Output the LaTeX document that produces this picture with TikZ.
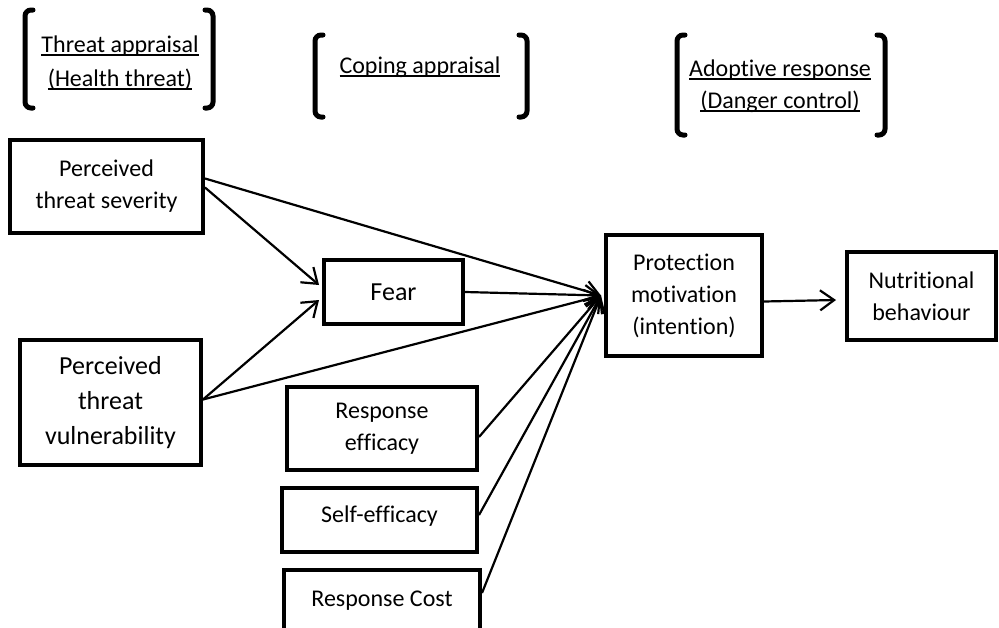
\documentclass[tikz,border=0pt]{standalone}
\usepackage{fontspec}
\setmainfont{Carlito}[Ligatures=NoCommon]
\usetikzlibrary{arrows.meta}
\newcommand\ulx[1]{\setbox0\hbox{#1}\rlap{\rule[-4pt]{\wd0}{2pt}}\box0}
\begin{document}
\begin{tikzpicture}[x=1pt,y=-1pt,
 box/.style={draw,line width=4pt,inner sep=0pt,align=center,font=\fontsize{24}{32}\selectfont},
 conn/.style={line width=2.2pt,-{Straight Barb[length=14pt,width=20pt,line width=2.2pt]}},
 brk/.style={line width=5pt,line cap=round,rounded corners=6pt},
 lbl/.style={align=center,inner sep=0pt,font=\fontsize{24}{34}\selectfont}]
\useasboundingbox (0,0) rectangle (999,627);
\clip (0,0) rectangle (999,627);
% brackets
\draw[brk] (33,10) -- (25,10) -- (25,108) -- (33,108);
\draw[brk] (205,10) -- (213,10) -- (213,108) -- (205,108);
\draw[brk] (323,35) -- (315,35) -- (315,117) -- (323,117);
\draw[brk] (519,35) -- (527,35) -- (527,117) -- (519,117);
\draw[brk] (685,35) -- (677,35) -- (677,135) -- (685,135);
\draw[brk] (877,35) -- (885,35) -- (885,135) -- (877,135);
\node[lbl] (t1) at (120,63) {\ulx{Threat appraisal}\\\ulx{(Health threat)}};
\node[lbl] (t2) at (420,67) {\ulx{Coping appraisal}};
\node[lbl,font=\fontsize{24}{32}\selectfont] (t3) at (780,86) {\ulx{Adoptive response}\\\ulx{(Danger control)}};
% boxes
\node[box,minimum width=193pt,minimum height=93pt] (pts) at (106.5,186.5) {Perceived\\threat severity};
\node[box,font=\fontsize{26}{35}\selectfont,minimum width=181pt,minimum height=125pt] (ptv) at (110.5,402.5) {Perceived\\threat\\vulnerability};
\node[box,font=\fontsize{26}{35}\selectfont,minimum width=139pt,minimum height=64pt] (fear) at (393.5,292) {Fear};
\node[box,minimum width=190pt,minimum height=83pt] (re) at (382,428.5) {Response\\efficacy};
\node[box,minimum width=195pt,minimum height=64pt,text height=20pt,text depth=16pt] (se) at (379.5,520) {Self-efficacy};
\node[box,minimum width=196pt,minimum height=68pt,text height=19pt,text depth=15pt] (rc) at (382,604) {Response Cost};
\node[box,minimum width=156pt,minimum height=121pt] (pm) at (684,295.5) {Protection\\motivation\\(intention)};
\node[box,minimum width=149pt,minimum height=88pt] (nb) at (921.5,296) {Nutritional\\behaviour};
% connectors
\coordinate (pmin) at ([xshift=-3pt]pm.west);
\draw[conn] ([yshift=8pt]pts.east) -- (pmin);
\draw[conn] ([yshift=-1pt]pts.east) -- ([xshift=-3pt,yshift=7pt]fear.west);
\draw[conn] ([yshift=3pt]ptv.east) -- ([xshift=-3pt,yshift=-8pt]fear.west);
\draw[conn] ([yshift=3pt]ptv.east) -- (pmin);
\draw[conn] (fear.east) -- (pmin);
\draw[conn] ([yshift=-8.5pt]re.east) -- (pmin);
\draw[conn] ([yshift=5pt]se.east) -- (pmin);
\draw[conn] ([yshift=11pt]rc.east) -- (pmin);
\draw[conn] ([yshift=-6pt]pm.east) -- ([xshift=-9pt,yshift=-4pt]nb.west);
\end{tikzpicture}
\end{document}
